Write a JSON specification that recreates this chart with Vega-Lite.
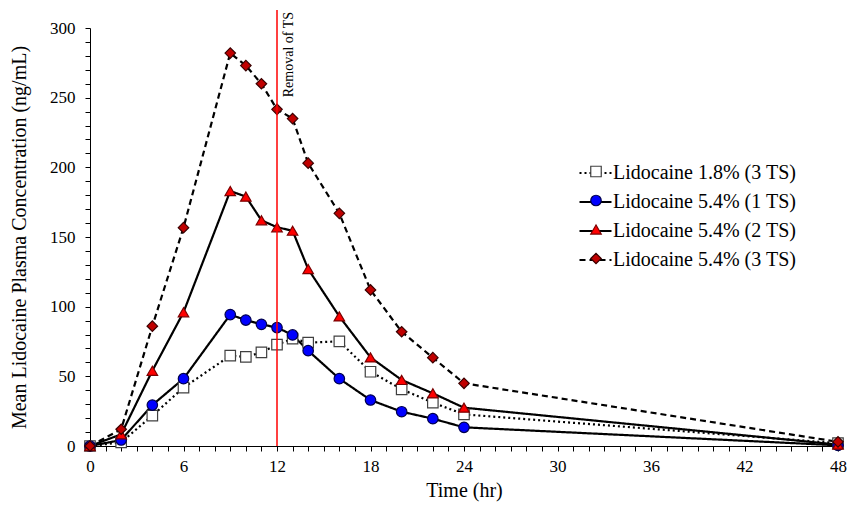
{
  "$schema": "https://vega.github.io/schema/vega-lite/v6.json",
  "width": 748,
  "height": 418,
  "autosize": {"type": "none"},
  "padding": {"left": 90, "top": 28, "right": 9, "bottom": 65},
  "background": "white",
  "config": {
    "view": {"stroke": null},
    "font": "Liberation Serif",
    "legend": {"labelFont": "Liberation Serif"},
    "axis": {
      "grid": false,
      "domainColor": "black",
      "tickColor": "black",
      "labelColor": "black",
      "titleColor": "black",
      "labelFont": "Liberation Serif",
      "titleFont": "Liberation Serif",
      "labelFontSize": 17,
      "titleFontSize": 20,
      "titleFontWeight": "normal",
      "tickSize": 5,
      "domainWidth": 1,
      "tickWidth": 1
    }
  },
  "data": {
    "values": [
      {"t": 0, "conc": 0, "series": "Lidocaine 1.8% (3 TS)"},
      {"t": 2, "conc": 2.6, "series": "Lidocaine 1.8% (3 TS)"},
      {"t": 4, "conc": 21.8, "series": "Lidocaine 1.8% (3 TS)"},
      {"t": 6, "conc": 41.9, "series": "Lidocaine 1.8% (3 TS)"},
      {"t": 9, "conc": 64.8, "series": "Lidocaine 1.8% (3 TS)"},
      {"t": 10, "conc": 63.9, "series": "Lidocaine 1.8% (3 TS)"},
      {"t": 11, "conc": 67.2, "series": "Lidocaine 1.8% (3 TS)"},
      {"t": 12, "conc": 72.7, "series": "Lidocaine 1.8% (3 TS)"},
      {"t": 13, "conc": 77, "series": "Lidocaine 1.8% (3 TS)"},
      {"t": 14, "conc": 74.2, "series": "Lidocaine 1.8% (3 TS)"},
      {"t": 16, "conc": 75.1, "series": "Lidocaine 1.8% (3 TS)"},
      {"t": 18, "conc": 53.3, "series": "Lidocaine 1.8% (3 TS)"},
      {"t": 20, "conc": 40.7, "series": "Lidocaine 1.8% (3 TS)"},
      {"t": 22, "conc": 31.1, "series": "Lidocaine 1.8% (3 TS)"},
      {"t": 24, "conc": 22.7, "series": "Lidocaine 1.8% (3 TS)"},
      {"t": 48, "conc": 2, "series": "Lidocaine 1.8% (3 TS)"},
      {"t": 0, "conc": 0, "series": "Lidocaine 5.4% (1 TS)"},
      {"t": 2, "conc": 4.3, "series": "Lidocaine 5.4% (1 TS)"},
      {"t": 4, "conc": 29.4, "series": "Lidocaine 5.4% (1 TS)"},
      {"t": 6, "conc": 48.3, "series": "Lidocaine 5.4% (1 TS)"},
      {"t": 9, "conc": 94.3, "series": "Lidocaine 5.4% (1 TS)"},
      {"t": 10, "conc": 90.4, "series": "Lidocaine 5.4% (1 TS)"},
      {"t": 11, "conc": 87.3, "series": "Lidocaine 5.4% (1 TS)"},
      {"t": 12, "conc": 85, "series": "Lidocaine 5.4% (1 TS)"},
      {"t": 13, "conc": 79.7, "series": "Lidocaine 5.4% (1 TS)"},
      {"t": 14, "conc": 68.4, "series": "Lidocaine 5.4% (1 TS)"},
      {"t": 16, "conc": 48.3, "series": "Lidocaine 5.4% (1 TS)"},
      {"t": 18, "conc": 33, "series": "Lidocaine 5.4% (1 TS)"},
      {"t": 20, "conc": 24.6, "series": "Lidocaine 5.4% (1 TS)"},
      {"t": 22, "conc": 19.6, "series": "Lidocaine 5.4% (1 TS)"},
      {"t": 24, "conc": 13.4, "series": "Lidocaine 5.4% (1 TS)"},
      {"t": 48, "conc": 0.5, "series": "Lidocaine 5.4% (1 TS)"},
      {"t": 0, "conc": 0, "series": "Lidocaine 5.4% (2 TS)"},
      {"t": 2, "conc": 8.4, "series": "Lidocaine 5.4% (2 TS)"},
      {"t": 4, "conc": 54, "series": "Lidocaine 5.4% (2 TS)"},
      {"t": 6, "conc": 96, "series": "Lidocaine 5.4% (2 TS)"},
      {"t": 9, "conc": 183, "series": "Lidocaine 5.4% (2 TS)"},
      {"t": 10, "conc": 179, "series": "Lidocaine 5.4% (2 TS)"},
      {"t": 11, "conc": 162, "series": "Lidocaine 5.4% (2 TS)"},
      {"t": 12, "conc": 157, "series": "Lidocaine 5.4% (2 TS)"},
      {"t": 13, "conc": 154.5, "series": "Lidocaine 5.4% (2 TS)"},
      {"t": 14, "conc": 127, "series": "Lidocaine 5.4% (2 TS)"},
      {"t": 16, "conc": 93, "series": "Lidocaine 5.4% (2 TS)"},
      {"t": 18, "conc": 63.6, "series": "Lidocaine 5.4% (2 TS)"},
      {"t": 20, "conc": 47.4, "series": "Lidocaine 5.4% (2 TS)"},
      {"t": 22, "conc": 37.8, "series": "Lidocaine 5.4% (2 TS)"},
      {"t": 24, "conc": 27.5, "series": "Lidocaine 5.4% (2 TS)"},
      {"t": 48, "conc": 1, "series": "Lidocaine 5.4% (2 TS)"},
      {"t": 0, "conc": 0, "series": "Lidocaine 5.4% (3 TS)"},
      {"t": 2, "conc": 12, "series": "Lidocaine 5.4% (3 TS)"},
      {"t": 4, "conc": 86, "series": "Lidocaine 5.4% (3 TS)"},
      {"t": 6, "conc": 156.7, "series": "Lidocaine 5.4% (3 TS)"},
      {"t": 9, "conc": 282, "series": "Lidocaine 5.4% (3 TS)"},
      {"t": 10, "conc": 273, "series": "Lidocaine 5.4% (3 TS)"},
      {"t": 11, "conc": 260, "series": "Lidocaine 5.4% (3 TS)"},
      {"t": 12, "conc": 241.6, "series": "Lidocaine 5.4% (3 TS)"},
      {"t": 13, "conc": 235, "series": "Lidocaine 5.4% (3 TS)"},
      {"t": 14, "conc": 203, "series": "Lidocaine 5.4% (3 TS)"},
      {"t": 16, "conc": 167, "series": "Lidocaine 5.4% (3 TS)"},
      {"t": 18, "conc": 112, "series": "Lidocaine 5.4% (3 TS)"},
      {"t": 20, "conc": 82, "series": "Lidocaine 5.4% (3 TS)"},
      {"t": 22, "conc": 63.4, "series": "Lidocaine 5.4% (3 TS)"},
      {"t": 24, "conc": 45, "series": "Lidocaine 5.4% (3 TS)"},
      {"t": 48, "conc": 3, "series": "Lidocaine 5.4% (3 TS)"}
    ]
  },
  "encoding": {
    "x": {
      "field": "t",
      "type": "quantitative",
      "scale": {"domain": [0, 48], "nice": false, "zero": false},
      "axis": {
        "title": "Time (hr)",
        "values": [0,1,2,3,4,5,6,7,8,9,10,11,12,13,14,15,16,17,18,19,20,21,22,23,24,25,26,27,28,29,30,31,32,33,34,35,36,37,38,39,40,41,42,43,44,45,46,47,48],
        "labelExpr": "datum.value % 6 === 0 ? datum.label : ''",
        "labelPadding": 7,
        "titlePadding": 6,
        "labelFlush": false,
        "labelOverlap": false
      }
    },
    "y": {
      "field": "conc",
      "type": "quantitative",
      "scale": {"domain": [0, 300], "nice": false},
      "axis": {
        "title": "Mean Lidocaine Plasma Concentration (ng/mL)",
        "values": [0,10,20,30,40,50,60,70,80,90,100,110,120,130,140,150,160,170,180,190,200,210,220,230,240,250,260,270,280,290,300],
        "labelExpr": "datum.value % 50 === 0 ? datum.label : ''",
        "labelPadding": 10,
        "titlePadding": 20,
        "labelOverlap": false,
        "labelFlush": false
      }
    }
  },
  "layer": [
    {
      "mark": {"type": "line", "color": "black", "strokeWidth": 2.2},
      "encoding": {
        "strokeDash": {
          "field": "series",
          "type": "nominal",
          "scale": {"range": [[2, 3], [1, 0], [1, 0], [6, 4]]},
          "legend": {
            "title": null,
            "orient": "none",
            "legendX": 488,
            "legendY": 127.5,
            "padding": 0,
            "symbolType": "stroke",
            "symbolSize": 1024,
            "symbolStrokeColor": "black",
            "symbolStrokeWidth": 2.2,
            "labelFont": "Liberation Serif",
            "labelFontSize": 20,
            "labelColor": "black",
            "labelOffset": 0,
            "labelLimit": 400,
            "rowPadding": 1
          }
        }
      }
    },
    {
      "transform": [{"filter": "datum.conc >= 0"}],
      "mark": {"type": "point", "filled": true, "size": 110, "strokeWidth": 1.2, "opacity": 1},
      "encoding": {
        "shape": {
          "field": "series",
          "type": "nominal",
          "scale": {"range": ["square", "circle", "triangle-up", "diamond"]},
          "legend": {
            "title": null,
            "orient": "none",
            "legendX": 496,
            "legendY": 133.5,
            "padding": 0,
            "zindex": 2,
            "symbolSize": 110,
            "symbolStrokeWidth": 1.2,
            "symbolOpacity": 1,
            "labelExpr": "''",
            "labelFontSize": 20,
            "labelOffset": 0,
            "rowPadding": 9
          }
        },
        "fill": {
          "field": "series",
          "type": "nominal",
          "scale": {"range": ["#ffffff", "#0000ff", "#ff0000", "#c00000"]}
        },
        "stroke": {
          "field": "series",
          "type": "nominal",
          "scale": {"range": ["#404040", "#00004d", "#7a0000", "#3a0000"]}
        }
      }
    },
    {
      "transform": [{"filter": "datum.t === 12 && datum.series === 'Lidocaine 1.8% (3 TS)'"}],
      "mark": {"type": "rule", "color": "#ff0000", "strokeWidth": 1.5, "clip": false},
      "encoding": {
        "x": {"datum": 12, "type": "quantitative"},
        "y": {"datum": 0, "type": "quantitative"},
        "y2": {"datum": 313}
      }
    },
    {
      "transform": [{"filter": "datum.t === 12 && datum.series === 'Lidocaine 1.8% (3 TS)'"}],
      "mark": {"type": "text", "text": "Removal of TS", "angle": 270, "align": "right", "baseline": "top", "fontSize": 14, "font": "Liberation Serif", "color": "black"},
      "encoding": {
        "x": {"datum": 12.3, "type": "quantitative"},
        "y": {"datum": 311.5, "type": "quantitative"}
      }
    }
  ]
}
